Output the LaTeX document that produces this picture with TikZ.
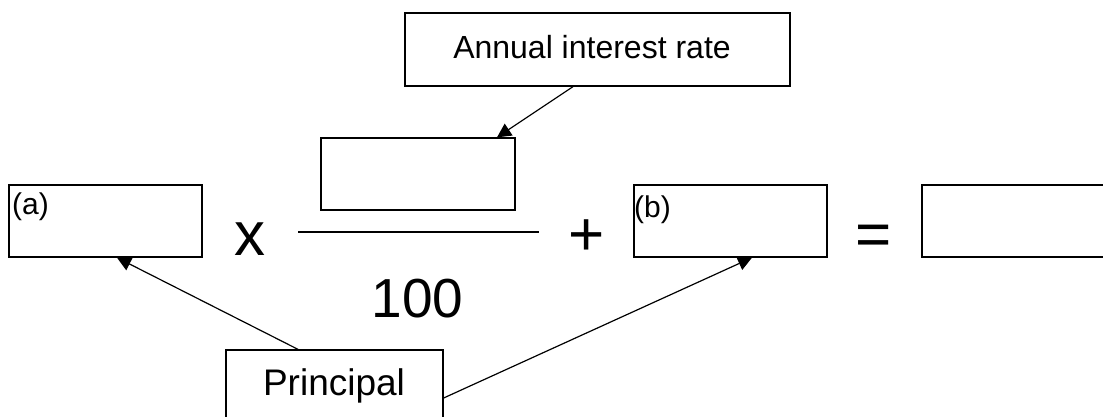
\documentclass[tikz,border=0pt]{standalone}
\usepackage{fontspec}
\setmainfont{Liberation Sans}
\usetikzlibrary{arrows.meta}
\begin{document}
\begin{tikzpicture}[x=1pt,y=-1pt,
  box/.style={draw, line width=1.3pt, inner sep=0pt, minimum height=72pt},
  txt/.style={inner sep=0pt, anchor=base},
  lbl/.style={inner sep=0pt, anchor=base west, font=\fontsize{30}{30}\selectfont},
  arr/.style={line width=1.2pt, -{Triangle[length=14pt,width=14pt]}}]
\useasboundingbox (0,0) rectangle (1103,416);
% boxes
\node[box, minimum width=385pt, minimum height=73pt] (rate) at (597.5,49.5) {};
\node[box, minimum width=194pt] (num) at (418,174) {};
\node[box, minimum width=193pt] (a) at (105.5,221) {};
\node[box, minimum width=193pt] (b) at (730.5,221) {};
\node[box, minimum width=193pt] (res) at (1018.5,221) {};
\node[box, minimum width=217pt, minimum height=96pt] (P) at (334.5,398) {};
% texts
\node[txt, font=\fontsize{32}{32}\selectfont] (ratetxt) at (592,58) {Annual interest rate};
\node[txt, font=\fontsize{37}{37}\selectfont] (Ptxt) at (334,395) {Principal};
\node[lbl] (alab) at (12,214) {(a)};
\node[lbl] (blab) at (634,217) {(b)};
\node[txt, font=\fontsize{62}{62}\selectfont] (times) at (250,255) {x};
\node[txt, font=\fontsize{62}{62}\selectfont] (plus) at (587,255) {+};
\node[txt, font=\fontsize{62}{62}\selectfont] (eq) at (874,255) {=};
\node[txt, font=\fontsize{55}{55}\selectfont] (hundred) at (417.5,317) {100};
% fraction line
\draw[line width=1.3pt] (298,232) -- (539,232);
% arrows
\draw[arr] ([xshift=-24.5pt]rate.south) -- ([xshift=79pt]num.north);
\draw[arr] ([xshift=-36.5pt]P.north) -- ([xshift=11.5pt]a.south);
\draw[arr] (P.east) -- ([xshift=21.5pt]b.south);
\end{tikzpicture}
\end{document}
